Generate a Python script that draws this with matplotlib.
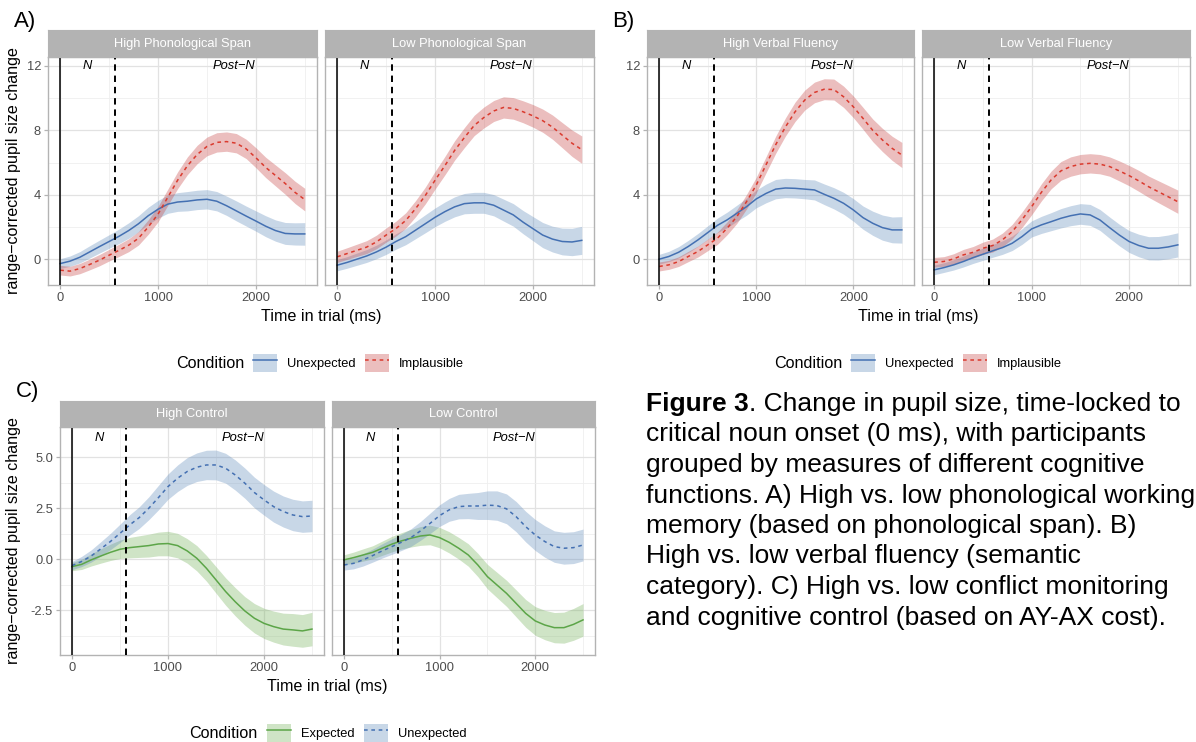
import numpy as np
import matplotlib
matplotlib.use("Agg")
import matplotlib.pyplot as plt
from matplotlib.patches import Patch
from matplotlib.lines import Line2D
from matplotlib.legend_handler import HandlerTuple

plt.rcParams['font.family'] = ['Liberation Sans', 'DejaVu Sans']

W, H = 1196, 742

# ---- data (every 100 ms) ----
time_ms = np.arange(0, 2501, 100)

# A) phonological span
span_high_unexpected = [-0.27, -0.12, 0.12, 0.45, 0.78, 1.1, 1.42, 1.78, 2.2, 2.7, 3.1, 3.42, 3.55,
                        3.6, 3.68, 3.72, 3.6, 3.32, 3.0, 2.68, 2.37, 2.05, 1.78, 1.6, 1.57, 1.57]
span_high_unexpected_se = [0.3, 0.32, 0.35, 0.38, 0.4, 0.42, 0.45, 0.48, 0.5, 0.53, 0.55, 0.57, 0.58,
                           0.6, 0.6, 0.6, 0.6, 0.6, 0.62, 0.62, 0.63, 0.65, 0.66, 0.68, 0.69, 0.7]
span_high_implausible = [-0.68, -0.74, -0.58, -0.33, -0.06, 0.25, 0.55, 0.87, 1.3, 2.0, 2.8, 3.85, 4.9,
                         5.8, 6.5, 7.0, 7.25, 7.3, 7.2, 6.85, 6.3, 5.7, 5.2, 4.7, 4.15, 3.7]
span_high_implausible_se = [0.3, 0.3, 0.32, 0.33, 0.35, 0.36, 0.38, 0.4, 0.42, 0.45, 0.48, 0.5, 0.52,
                            0.55, 0.57, 0.58, 0.6, 0.6, 0.6, 0.6, 0.62, 0.63, 0.65, 0.67, 0.69, 0.7]
span_low_unexpected = [-0.37, -0.2, 0.0, 0.2, 0.45, 0.75, 1.1, 1.4, 1.8, 2.2, 2.6, 2.95, 3.25,
                       3.45, 3.5, 3.5, 3.35, 3.05, 2.75, 2.3, 1.9, 1.5, 1.25, 1.1, 1.07, 1.17]
span_low_unexpected_se = [0.35, 0.36, 0.38, 0.4, 0.42, 0.45, 0.48, 0.5, 0.53, 0.56, 0.58, 0.6, 0.62,
                          0.63, 0.65, 0.65, 0.66, 0.68, 0.7, 0.72, 0.75, 0.78, 0.8, 0.83, 0.85, 0.87]
span_low_implausible = [0.15, 0.35, 0.55, 0.75, 1.07, 1.5, 1.9, 2.4, 3.13, 3.95, 4.9, 5.8, 6.75,
                        7.55, 8.3, 8.8, 9.2, 9.42, 9.36, 9.15, 8.9, 8.6, 8.2, 7.7, 7.2, 6.8]
span_low_implausible_se = [0.35, 0.36, 0.38, 0.4, 0.42, 0.44, 0.46, 0.48, 0.5, 0.52, 0.55, 0.57, 0.6,
                           0.62, 0.63, 0.65, 0.65, 0.66, 0.67, 0.68, 0.7, 0.72, 0.75, 0.78, 0.82, 0.85]

# B) verbal fluency
fluency_high_unexpected = [0.0, 0.17, 0.43, 0.79, 1.2, 1.65, 2.1, 2.44, 2.85, 3.26, 3.74, 4.08, 4.35,
                           4.42, 4.4, 4.35, 4.3, 4.03, 3.78, 3.47, 3.06, 2.58, 2.23, 1.96, 1.82, 1.82]
fluency_high_unexpected_se = [0.3, 0.32, 0.35, 0.38, 0.4, 0.42, 0.45, 0.48, 0.5, 0.53, 0.55, 0.58, 0.6,
                              0.6, 0.6, 0.6, 0.62, 0.64, 0.66, 0.68, 0.7, 0.72, 0.75, 0.78, 0.8, 0.82]
fluency_high_implausible = [-0.45, -0.35, -0.15, 0.17, 0.48, 0.89, 1.3, 1.92, 2.64, 3.57, 4.6, 5.85, 7.1,
                            8.2, 9.15, 9.88, 10.35, 10.55, 10.53, 10.08, 9.46, 8.74, 8.0, 7.4, 6.88, 6.47]
fluency_high_implausible_se = [0.28, 0.28, 0.3, 0.32, 0.34, 0.36, 0.38, 0.4, 0.42, 0.45, 0.48, 0.5, 0.53,
                               0.56, 0.6, 0.62, 0.64, 0.65, 0.65, 0.66, 0.67, 0.68, 0.7, 0.72, 0.75, 0.78]
fluency_low_unexpected = [-0.66, -0.52, -0.35, -0.14, 0.1, 0.31, 0.52, 0.72, 0.99, 1.4, 1.88, 2.13, 2.33,
                          2.54, 2.7, 2.81, 2.75, 2.44, 1.96, 1.5, 1.1, 0.85, 0.68, 0.68, 0.76, 0.89]
fluency_low_unexpected_se = [0.3, 0.3, 0.32, 0.34, 0.36, 0.38, 0.4, 0.42, 0.45, 0.48, 0.5, 0.53, 0.56,
                             0.6, 0.62, 0.64, 0.65, 0.65, 0.66, 0.67, 0.68, 0.7, 0.72, 0.73, 0.74, 0.75]
fluency_low_implausible = [-0.19, -0.14, 0.02, 0.27, 0.43, 0.68, 0.85, 1.2, 1.71, 2.44, 3.26, 4.15, 4.92,
                           5.48, 5.75, 5.9, 5.95, 5.9, 5.75, 5.48, 5.19, 4.86, 4.5, 4.19, 3.88, 3.57]
fluency_low_implausible_se = [0.3, 0.3, 0.32, 0.34, 0.36, 0.38, 0.4, 0.42, 0.45, 0.48, 0.5, 0.53, 0.55,
                              0.58, 0.6, 0.6, 0.6, 0.6, 0.6, 0.62, 0.63, 0.65, 0.66, 0.68, 0.7, 0.72]

# C) cognitive control
control_high_expected = [-0.36, -0.25, -0.03, 0.16, 0.34, 0.49, 0.57, 0.62, 0.67, 0.75, 0.77, 0.67, 0.41,
                         0.05, -0.44, -1.01, -1.58, -2.08, -2.53, -2.89, -3.14, -3.3, -3.42, -3.46, -3.51, -3.42]
control_high_expected_se = [0.2, 0.25, 0.3, 0.35, 0.4, 0.45, 0.5, 0.53, 0.56, 0.58, 0.6, 0.6, 0.6,
                            0.62, 0.63, 0.65, 0.67, 0.69, 0.7, 0.72, 0.74, 0.76, 0.78, 0.8, 0.8, 0.82]
control_high_unexpected = [-0.31, -0.11, 0.16, 0.51, 0.87, 1.27, 1.68, 2.04, 2.5, 3.02, 3.56, 3.97, 4.3,
                           4.51, 4.62, 4.62, 4.46, 4.13, 3.73, 3.27, 2.91, 2.58, 2.34, 2.17, 2.09, 2.12]
control_high_unexpected_se = [0.2, 0.25, 0.3, 0.35, 0.4, 0.45, 0.5, 0.53, 0.56, 0.6, 0.62, 0.65, 0.68,
                              0.7, 0.72, 0.73, 0.73, 0.74, 0.74, 0.75, 0.75, 0.76, 0.76, 0.77, 0.77, 0.77]
control_low_expected = [-0.03, 0.08, 0.21, 0.34, 0.54, 0.74, 0.9, 1.03, 1.14, 1.19, 1.06, 0.83, 0.54,
                        0.21, -0.28, -0.85, -1.26, -1.67, -2.16, -2.65, -3.02, -3.22, -3.35, -3.35, -3.19, -2.97]
control_low_expected_se = [0.25, 0.27, 0.3, 0.32, 0.35, 0.38, 0.4, 0.43, 0.46, 0.48, 0.5, 0.52, 0.53,
                           0.55, 0.57, 0.6, 0.62, 0.64, 0.66, 0.68, 0.7, 0.72, 0.74, 0.76, 0.78, 0.8]
control_low_unexpected = [-0.28, -0.2, -0.03, 0.18, 0.41, 0.62, 0.83, 1.06, 1.39, 1.76, 2.14, 2.42, 2.58,
                          2.61, 2.61, 2.65, 2.63, 2.47, 2.09, 1.6, 1.19, 0.87, 0.62, 0.54, 0.57, 0.7]
control_low_unexpected_se = [0.25, 0.27, 0.3, 0.32, 0.35, 0.38, 0.4, 0.43, 0.46, 0.5, 0.53, 0.56, 0.6,
                             0.62, 0.66, 0.7, 0.72, 0.73, 0.74, 0.75, 0.76, 0.77, 0.77, 0.78, 0.78, 0.78]

noun_end_ms = 560
facet_titles_a = ['High Phonological Span', 'Low Phonological Span']
facet_titles_b = ['High Verbal Fluency', 'Low Verbal Fluency']
facet_titles_c = ['High Control', 'Low Control']

caption_lines = [
    'critical noun onset (0 ms), with participants',
    'grouped by measures of different cognitive',
    'functions. A) High vs. low phonological working',
    'memory (based on phonological span). B)',
    'High vs. low verbal fluency (semantic',
    'category). C) High vs. low conflict monitoring',
    'and cognitive control (based on AY-AX cost).',
]

# ---- styles ----
BLUE, RED, GREEN = '#4470B2', '#DA3A2E', '#5CA548'
FILL = {BLUE: '#628DBD', RED: '#C64545', GREEN: '#76B25C'}
FILL_ALPHA = 0.35
GRID = '#E2E2E2'
BORDER = '#B3B3B3'
TICKTXT = '#4D4D4D'
SMALL = 9.3
TITLE = 11.6
DASH = (2.4, 2.4)

fig = plt.figure(figsize=(W / 100, H / 100), dpi=100)


def px_axes(left, top, right, bottom):
    return fig.add_axes([left / W, 1 - bottom / H, (right - left) / W, (bottom - top) / H])


def draw_facet(ax, series, ylim, yticks, yminor, ylabels, text_y, show_y):
    ax.set_xlim(-125, 2625)
    ax.set_ylim(*ylim)
    ax.set_xticks([0, 1000, 2000])
    ax.set_xticks([500, 1500, 2500], minor=True)
    ax.set_yticks(yticks)
    ax.set_yticks(yminor, minor=True)
    ax.grid(which='major', color=GRID, lw=0.9, zorder=0)
    ax.grid(which='minor', color='#EFEFEF', lw=0.6, zorder=0)
    ax.set_axisbelow(True)
    for s in ax.spines.values():
        s.set_color(BORDER)
        s.set_linewidth(1.0)
    ax.tick_params(which='major', length=3, width=0.9, color=BORDER, labelcolor=TICKTXT,
                   labelsize=SMALL, pad=2)
    ax.tick_params(which='minor', length=0)
    if show_y:
        ax.set_yticklabels(ylabels)
    else:
        ax.tick_params(axis='y', which='major', length=0, labelleft=False)
    for mean, se, color, dashed in series:
        mean = np.array(mean)
        se = np.array(se)
        ax.fill_between(time_ms, mean - se, mean + se, color=FILL[color], alpha=FILL_ALPHA,
                        lw=0, zorder=2)
        ln, = ax.plot(time_ms, mean, color=color, lw=1.1, zorder=3)
        if dashed:
            ln.set_dashes(DASH)
    ax.axvline(0, color='black', lw=1.1, zorder=4)
    ax.axvline(noun_end_ms, color='black', lw=1.4, dashes=(3.3, 2.5), zorder=4)
    ax.text(280, text_y, 'N', style='italic', fontsize=SMALL, ha='center', va='center')
    ax.text(1780, text_y, 'Post\u2212N', style='italic', fontsize=SMALL, ha='center', va='center')


def strip(left, top, right, bottom, title):
    sax = px_axes(left, top, right, bottom)
    sax.set_facecolor(BORDER)
    sax.set_xticks([])
    sax.set_yticks([])
    for s in sax.spines.values():
        s.set_color(BORDER)
    sax.text(0.5, 0.5, title, color='white', fontsize=SMALL, ha='center', va='center',
             transform=sax.transAxes)


def legend(x_key, y, handles, labels, title_x):
    fig.legend(handles, labels, loc='center left', bbox_to_anchor=(x_key / W, 1 - y / H),
               ncol=2, frameon=False, borderpad=0, borderaxespad=0, fontsize=SMALL,
               handlelength=1.86, handleheight=1.86, handletextpad=0.78, columnspacing=0.72,
               handler_map={tuple: HandlerTuple(ndivide=1, pad=0)})
    fig.text(title_x / W, 1 - y / H, 'Condition', fontsize=TITLE, ha='left', va='center')


def key(color, dashed):
    ln = Line2D([], [], color=color, lw=1.1)
    if dashed:
        ln.set_dashes(DASH)
    return (Patch(facecolor=FILL[color], alpha=FILL_ALPHA, lw=0), ln)


ab_ylim = (-1.6, 12.55)
ab_ticks = [0, 4, 8, 12]
ab_minor = [2, 6, 10]
ab_labels = ['0', '4', '8', '12']

# ---- A ----
ax = px_axes(48, 57, 317, 285)
draw_facet(ax, [(span_high_unexpected, span_high_unexpected_se, BLUE, False),
                (span_high_implausible, span_high_implausible_se, RED, True)],
           ab_ylim, ab_ticks, ab_minor, ab_labels, 12, True)
strip(48, 30, 317, 57, facet_titles_a[0])
ax = px_axes(325, 57, 594, 285)
draw_facet(ax, [(span_low_unexpected, span_low_unexpected_se, BLUE, False),
                (span_low_implausible, span_low_implausible_se, RED, True)],
           ab_ylim, ab_ticks, ab_minor, ab_labels, 12, False)
strip(325, 30, 594, 57, facet_titles_a[1])

# ---- B ----
ax = px_axes(647, 57, 914, 285)
draw_facet(ax, [(fluency_high_unexpected, fluency_high_unexpected_se, BLUE, False),
                (fluency_high_implausible, fluency_high_implausible_se, RED, True)],
           ab_ylim, ab_ticks, ab_minor, ab_labels, 12, True)
strip(647, 30, 914, 57, facet_titles_b[0])
ax = px_axes(922, 57, 1190, 285)
draw_facet(ax, [(fluency_low_unexpected, fluency_low_unexpected_se, BLUE, False),
                (fluency_low_implausible, fluency_low_implausible_se, RED, True)],
           ab_ylim, ab_ticks, ab_minor, ab_labels, 12, False)
strip(922, 30, 1190, 57, facet_titles_b[1])

# ---- C ----
c_ylim = (-4.69, 6.48)
c_ticks = [-2.5, 0, 2.5, 5]
c_minor = [-3.75, -1.25, 1.25, 3.75]
c_labels = ['-2.5', '0.0', '2.5', '5.0']
ax = px_axes(60, 427, 324, 655)
draw_facet(ax, [(control_high_expected, control_high_expected_se, GREEN, False),
                (control_high_unexpected, control_high_unexpected_se, BLUE, True)],
           c_ylim, c_ticks, c_minor, c_labels, 5.95, True)
strip(60, 401, 324, 427, facet_titles_c[0])
ax = px_axes(332, 427, 595, 655)
draw_facet(ax, [(control_low_expected, control_low_expected_se, GREEN, False),
                (control_low_unexpected, control_low_unexpected_se, BLUE, True)],
           c_ylim, c_ticks, c_minor, c_labels, 5.95, False)
strip(332, 401, 595, 427, facet_titles_c[1])

# ---- axis titles, panel letters ----
for cx, cy in [(321, 317), (918, 317), (327, 687)]:
    fig.text(cx / W, 1 - cy / H, 'Time in trial (ms)', fontsize=TITLE, ha='center', va='center')
for cy in [171, 541]:
    fig.text(14 / W, 1 - cy / H, 'range\u2212corrected pupil size change', fontsize=TITLE,
             rotation=90, ha='center', va='center')
for lx, ly, lab in [(14, 22, 'A)'), (612, 22, 'B)'), (16, 392, 'C)')]:
    fig.text(lx / W, 1 - ly / H, lab, fontsize=16, ha='left', va='center')

# ---- legends ----
legend(253, 363, [key(BLUE, False), key(RED, True)], ['Unexpected', 'Implausible'], 176)
legend(851, 363, [key(BLUE, False), key(RED, True)], ['Unexpected', 'Implausible'], 774)
legend(267, 733, [key(GREEN, False), key(BLUE, True)], ['Expected', 'Unexpected'], 189)

# ---- caption ----
cap_x, cap_y0, cap_dy = 646, 404, 30.5
bold = fig.text(cap_x / W, 1 - cap_y0 / H, 'Figure 3', fontsize=19, fontweight='bold',
                ha='left', va='center')
fig.canvas.draw()
bb = bold.get_window_extent()
fig.text(bb.x1 / W, 1 - cap_y0 / H, '. Change in pupil size, time-locked to', fontsize=19,
         ha='left', va='center')
for i, line in enumerate(caption_lines):
    fig.text(cap_x / W, 1 - (cap_y0 + (i + 1) * cap_dy) / H, line, fontsize=19,
             ha='left', va='center')

fig.savefig('out.png', dpi=100)
